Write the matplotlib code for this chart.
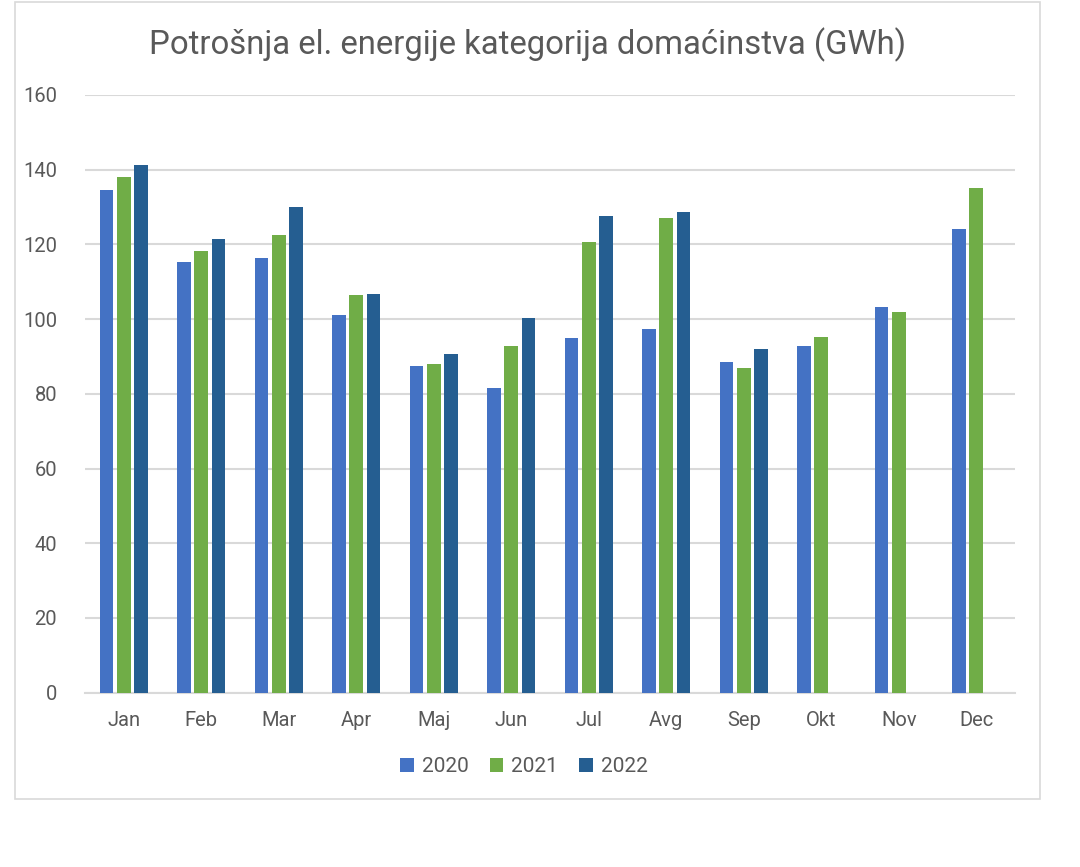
import numpy as np
import matplotlib.pyplot as plt
from matplotlib.patches import Rectangle

# podaci (GWh)
meseci = ['Jan', 'Feb', 'Mar', 'Apr', 'Maj', 'Jun', 'Jul', 'Avg', 'Sep', 'Okt', 'Nov', 'Dec']
god_2020 = [134.6, 115.4, 116.4, 101.0, 87.5, 81.5, 94.9, 97.3, 88.6, 92.8, 103.3, 124.1]
god_2021 = [138.0, 118.3, 122.4, 106.5, 87.9, 92.9, 120.6, 127.1, 86.8, 95.2, 102.0, 135.0]
god_2022 = [141.3, 121.4, 130.0, 106.8, 90.8, 100.3, 127.6, 128.8, 92.1]
godine = ['2020', '2021', '2022']
boje = ['#4472C4', '#70AD47', '#255E91']

plt.rcParams['font.family'] = ['Roboto', 'DejaVu Sans']
siva = '#595959'

fig = plt.figure(figsize=(10.8, 8.67), dpi=100)
ax = fig.add_axes([85 / 1080, 1 - 692.7 / 867, 930 / 1080, (692.7 - 95) / 867])

# okvir grafikona
fig.patches.append(Rectangle((15 / 1080, 1 - 799 / 867), 1025 / 1080, 797 / 867,
                             transform=fig.transFigure, fill=False,
                             edgecolor='#D9D9D9', linewidth=1.2))

x = np.arange(len(meseci))
sirina = 0.175
korak = 0.223
for i, (vrednosti, god, boja) in enumerate(zip([god_2020, god_2021, god_2022], godine, boje)):
    pozicije = x[:len(vrednosti)] + (i - 1) * korak
    ax.bar(pozicije, vrednosti, width=sirina, color=boja, label=god, zorder=3)

ax.set_xlim(-0.5, len(meseci) - 0.5)
ax.set_ylim(0, 160)
ax.set_yticks(range(0, 161, 20))
ax.set_xticks(x)
ax.set_xticklabels(meseci)
ax.grid(axis='y', color='#D9D9D9', linewidth=1.5, zorder=0)
ax.tick_params(axis='both', length=0, labelsize=14.5, colors=siva)
ax.tick_params(axis='y', pad=20)
ax.tick_params(axis='x', pad=13)
for s in ['top', 'right', 'left']:
    ax.spines[s].set_visible(False)
ax.spines['bottom'].set_color('#D9D9D9')
ax.spines['bottom'].set_linewidth(1.5)

fig.text(528 / 1080, 1 - 45 / 867, 'Potrošnja el. energije kategorija domaćinstva (GWh)',
         ha='center', va='center', fontsize=23.7, color=siva)

leg = fig.legend(loc='center', bbox_to_anchor=(524 / 1080, 1 - 767 / 867), ncol=3,
                 frameon=False, fontsize=15, handlelength=0.65, handleheight=0.65,
                 handletextpad=0.4, columnspacing=1.0)
for t in leg.get_texts():
    t.set_color(siva)

plt.savefig('out.png', dpi=100)
